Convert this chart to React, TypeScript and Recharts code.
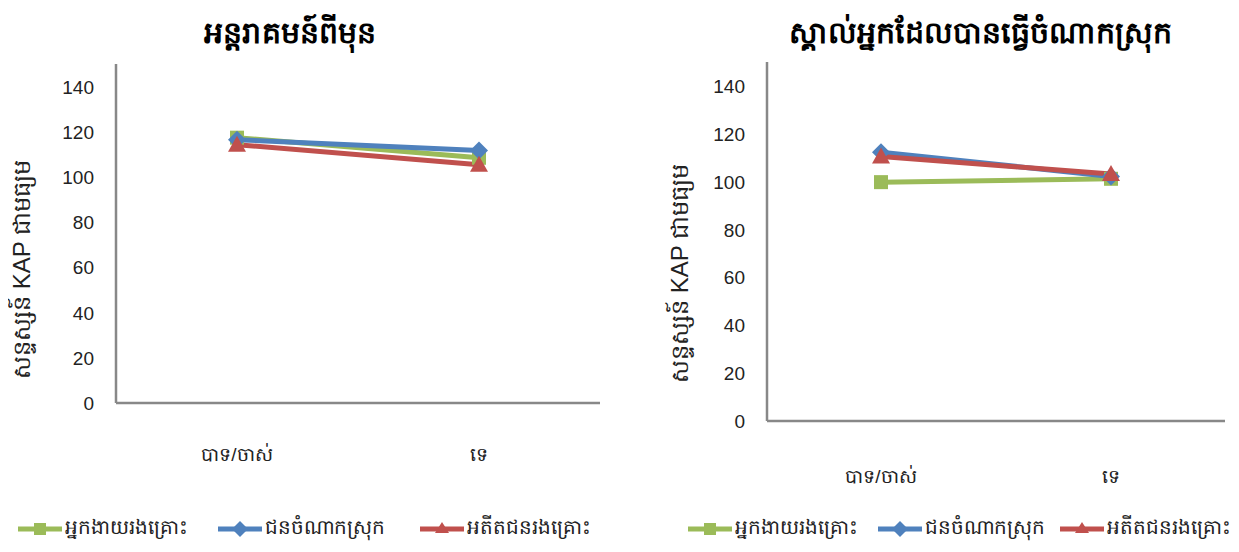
import { LineChart, Line, XAxis, YAxis } from "recharts";

const categories = ["បាទ/ចាស់", "ទេ"];
const seriesNames = ["អ្នកងាយរងគ្រោះ", "ជនចំណាកស្រុក", "អតីតជនរងគ្រោះ"];
const yTicks = [0, 20, 40, 60, 80, 100, 120, 140];

// chart 1: previous intervention
const prevVulnerable = [117.4, 108.5];
const prevMigrant = [116.5, 111.7];
const prevVictim = [114.3, 105.4];

// chart 2: knows someone who migrated
const knowVulnerable = [99.8, 101.2];
const knowMigrant = [112.3, 102.2];
const knowVictim = [110.5, 103.2];

const COLORS = ["#9BBB59", "#4F81BD", "#C0504D"];
const FONT = "'Liberation Sans', Arial, 'Noto Sans', sans-serif";

const buildRows = (a: number[], b: number[], c: number[]) =>
  categories.map((name, i) => ({ name, s0: a[i], s1: b[i], s2: c[i] }));

const SquareDot = (props: any) => {
  const { cx, cy } = props;
  if (cx == null || cy == null) return null;
  return <rect x={cx - 7} y={cy - 7} width={14} height={14} fill={COLORS[0]} />;
};

const DiamondDot = (props: any) => {
  const { cx, cy } = props;
  if (cx == null || cy == null) return null;
  return <path d={`M${cx},${cy - 9} L${cx + 9},${cy} L${cx},${cy + 9} L${cx - 9},${cy} Z`} fill={COLORS[1]} />;
};

const TriangleDot = (props: any) => {
  const { cx, cy } = props;
  if (cx == null || cy == null) return null;
  return <path d={`M${cx},${cy - 9} L${cx + 9},${cy + 7} L${cx - 9},${cy + 7} Z`} fill={COLORS[2]} />;
};

const XTick = ({ x, y, payload, offset }: any) => (
  <text x={x} y={y + offset} textAnchor="middle" fontSize={19} fill="#222" fontFamily={FONT}>
    {payload.value}
  </text>
);

const YTick = ({ x, y, payload }: any) => (
  <text x={x - 14} y={y + 7} textAnchor="end" fontSize={19} fill="#222" fontFamily={FONT}>
    {payload.value}
  </text>
);

type PanelProps = {
  left: number;
  width: number;
  yAxisWidth: number;
  top: number;
  bottom: number;
  labelOffset: number;
  pad: number;
  rows: any[];
};

const Panel = ({ left, width, yAxisWidth, top, bottom, labelOffset, pad, rows }: PanelProps) => (
  <div style={{ position: "absolute", left, top: 0 }}>
    <LineChart width={width} height={500} data={rows} margin={{ top, right: 0, bottom: 0, left: 0 }}>
      <XAxis
        dataKey="name"
        height={500 - bottom}
        stroke="#888"
        strokeWidth={2.5}
        tickLine={false}
        tick={<XTick offset={labelOffset} />}
        interval={0}
        padding={{ left: pad, right: pad }}
      />
      <YAxis
        width={yAxisWidth}
        domain={[0, 150]}
        ticks={yTicks}
        stroke="#888"
        strokeWidth={2.5}
        tickLine={false}
        tick={<YTick />}
      />
      <Line dataKey="s0" stroke={COLORS[0]} strokeWidth={5} dot={<SquareDot />} isAnimationActive={false} />
      <Line dataKey="s1" stroke={COLORS[1]} strokeWidth={5} dot={<DiamondDot />} isAnimationActive={false} />
      <Line dataKey="s2" stroke={COLORS[2]} strokeWidth={5} dot={<TriangleDot />} isAnimationActive={false} />
    </LineChart>
  </div>
);

const LegendIcon = ({ i }: { i: number }) => (
  <svg width={44} height={20} style={{ verticalAlign: "middle" }}>
    <line x1={0} y1={10} x2={44} y2={10} stroke={COLORS[i]} strokeWidth={5} />
    {i === 0 && <rect x={16} y={4} width={12} height={12} fill={COLORS[0]} />}
    {i === 1 && <path d="M22,2 L30,10 L22,18 L14,10 Z" fill={COLORS[1]} />}
    {i === 2 && <path d="M22,3 L29,14 L15,14 Z" fill={COLORS[2]} />}
  </svg>
);

const LegendRow = ({ positions }: { positions: number[] }) => (
  <>
    {seriesNames.map((n, i) => (
      <div
        key={n}
        style={{
          position: "absolute",
          left: positions[i],
          top: 514,
          fontSize: 20,
          fontFamily: FONT,
          color: "#222",
          whiteSpace: "nowrap",
          display: "flex",
          alignItems: "center",
        }}
      >
        <LegendIcon i={i} />
        <span style={{ marginLeft: 3 }}>{n}</span>
      </div>
    ))}
  </>
);

const Title = ({ text, center }: { text: string; center: number }) => (
  <div
    style={{
      position: "absolute",
      left: center - 250,
      width: 500,
      top: 14,
      textAlign: "center",
      fontSize: 30,
      fontWeight: "bold",
      fontFamily: FONT,
      color: "#000",
    }}
  >
    {text}
  </div>
);

const YLabel = ({ cx, cy }: { cx: number; cy: number }) => (
  <div
    style={{
      position: "absolute",
      left: cx - 150,
      top: cy - 16,
      width: 300,
      textAlign: "center",
      fontSize: 24,
      fontFamily: FONT,
      color: "#222",
      transform: "rotate(-90deg)",
      whiteSpace: "nowrap",
    }}
  >
    សន្ទស្សន៍ KAP ជាមធ្យម
  </div>
);

export default function App() {
  return (
    <div style={{ position: "relative", width: 1239, height: 552, margin: -8, background: "#fff", overflow: "hidden" }}>
      <Title text="អន្តរាគមន៍ពីមុន" center={290} />
      <Title text="ស្គាល់អ្នកដែលបានធ្វើចំណាកស្រុក" center={980} />
      <YLabel cx={24} cy={268} />
      <YLabel cx={682} cy={272} />
      <Panel
        left={0}
        width={600}
        yAxisWidth={116}
        top={64}
        bottom={403}
        labelOffset={50}
        pad={121}
        rows={buildRows(prevVulnerable, prevMigrant, prevVictim)}
      />
      <Panel
        left={650}
        width={575}
        yAxisWidth={117}
        top={62}
        bottom={421}
        labelOffset={54}
        pad={114}
        rows={buildRows(knowVulnerable, knowMigrant, knowVictim)}
      />
      <LegendRow positions={[18, 218, 420]} />
      <LegendRow positions={[688, 878, 1060]} />
    </div>
  );
}
